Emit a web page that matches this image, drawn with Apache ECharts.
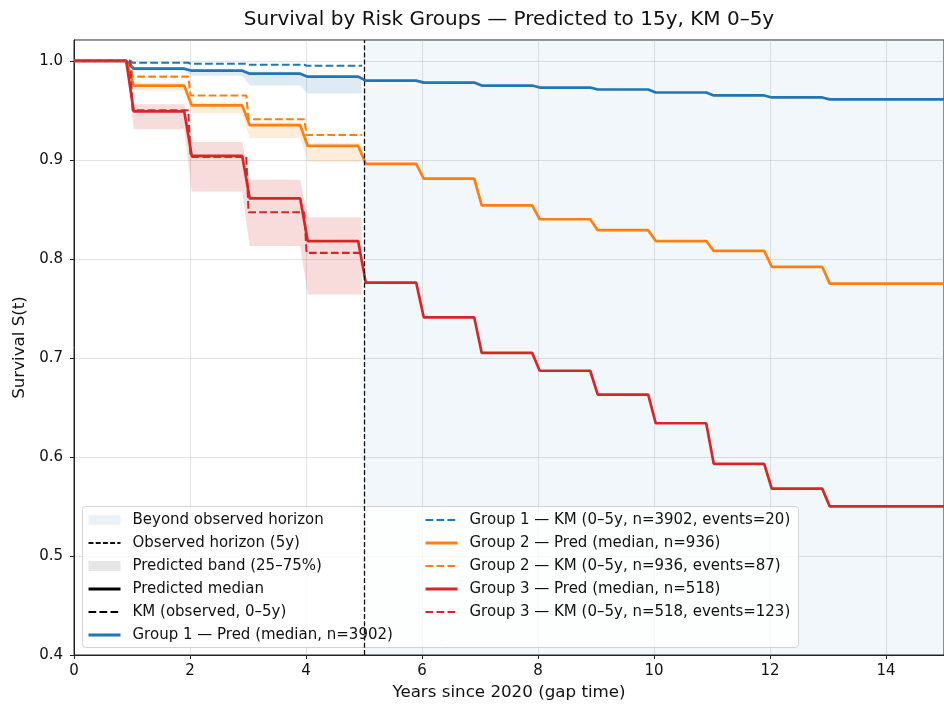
<!DOCTYPE html>
<html>
<head>
<meta charset="utf-8">
<script src="https://cdn.jsdelivr.net/npm/echarts@6/dist/echarts.min.js"></script>
<style>
  html, body { margin: 0; padding: 0; background: #fff; }
  #chart { width: 944px; height: 706px; }
</style>
</head>
<body>
<div id="chart"></div>
<script>
// ---- data ----
const s0 = 1.0;
const horizon = 5;
const xEnd = 15;

// predicted medians, value after the step at each year
const predTimes = [1, 2, 3, 4, 5, 6, 7, 8, 9, 10, 11, 12, 13];
const g1Pred = [0.992, 0.990, 0.987, 0.984, 0.980, 0.978, 0.975, 0.973, 0.971, 0.968, 0.965, 0.963, 0.961];
const g2Pred = [0.975, 0.955, 0.935, 0.914, 0.896, 0.881, 0.854, 0.840, 0.829, 0.818, 0.808, 0.792, 0.775];
const g3Pred = [0.949, 0.904, 0.861, 0.818, 0.776, 0.741, 0.705, 0.687, 0.663, 0.634, 0.593, 0.568, 0.550];

// KM (observed 0-5y)
const kmTimes = [1, 2, 3, 4];
const g1KM = [0.998, 0.997, 0.996, 0.995];
const g2KM = [0.984, 0.965, 0.941, 0.925];
const g3KM = [0.950, 0.903, 0.847, 0.806];

// predicted band 25-75% over 0-5y
const g1Lo = [0.990, 0.985, 0.975, 0.967];
const g1Hi = [0.994, 0.992, 0.989, 0.985];
const g2Lo = [0.970, 0.947, 0.922, 0.898];
const g2Hi = [0.978, 0.958, 0.938, 0.917];
const g3Lo = [0.931, 0.868, 0.813, 0.764];
const g3Hi = [0.956, 0.918, 0.880, 0.842];

const C1 = '#1f77b4', C2 = '#ff7f0e', C3 = '#d62728';
const FONT = 'DejaVu Sans';

// step curve with slightly slanted risers
function steps(times, vals, end, pre, post) {
  const pts = [[0, s0]];
  let prev = s0;
  times.forEach((t, i) => {
    pts.push([t - pre, prev]);
    pts.push([t + post, vals[i]]);
    prev = vals[i];
  });
  pts.push([end, prev]);
  return pts;
}

function band(lo, hi, color) {
  const top = steps(kmTimes, hi, 4.96, 0.1, 0.03);
  const bot = steps(kmTimes, lo, 4.96, 0.1, 0.03).reverse();
  const poly = top.concat(bot);
  return {
    type: 'custom',
    z: 1,
    silent: true,
    data: [[0, s0]],
    renderItem: (params, api) => ({
      type: 'polygon',
      shape: { points: poly.map(p => api.coord(p)) },
      style: { fill: color }
    })
  };
}

function pred(name, vals, color) {
  return {
    name: name, type: 'line', z: 3, symbol: 'none', silent: true,
    data: steps(predTimes, vals, xEnd, 0.1, 0.03),
    lineStyle: { color: color, width: 2.7 },
    itemStyle: { color: color }
  };
}

function km(name, vals, color) {
  return {
    name: name, type: 'line', z: 4, symbol: 'none', silent: true,
    data: steps(kmTimes, vals, 4.97, 0.03, 0.01),
    lineStyle: { color: color, width: 2.1, type: [7.7, 3.3] },
    itemStyle: { color: color }
  };
}

const names = {
  beyond: 'Beyond observed horizon',
  hz: 'Observed horizon (5y)',
  band: 'Predicted band (25–75%)',
  med: 'Predicted median',
  km: 'KM (observed, 0–5y)',
  p1: 'Group 1 — Pred (median, n=3902)',
  k1: 'Group 1 — KM (0–5y, n=3902, events=20)',
  p2: 'Group 2 — Pred (median, n=936)',
  k2: 'Group 2 — KM (0–5y, n=936, events=87)',
  p3: 'Group 3 — Pred (median, n=518)',
  k3: 'Group 3 — KM (0–5y, n=518, events=123)'
};

// legend entry drawn as a plain line (no marker)
const lineItem = (n, w) => ({
  name: n,
  itemStyle: { opacity: 0, borderWidth: 0 },
  lineStyle: { width: w }
});

const chart = echarts.init(document.getElementById('chart'));

const legendBase = {
  orient: 'vertical',
  top: 512,
  padding: 0,
  itemWidth: 32,
  itemHeight: 10,
  itemGap: 7,
  selectedMode: false,
  z: 6,
  textStyle: { fontFamily: FONT, fontSize: 15, lineHeight: 16, color: '#111', padding: [0, 0, 0, 7] }
};

chart.setOption({
  animation: false,
  backgroundColor: '#fff',
  title: {
    text: 'Survival by Risk Groups — Predicted to 15y, KM 0–5y',
    left: 509,
    textAlign: 'center',
    top: 10,
    padding: 0,
    textStyle: { fontFamily: FONT, fontSize: 20, fontWeight: 'normal', color: '#111' }
  },
  grid: {
    left: 74, right: -4, top: 40, bottom: 50,
    show: true, borderColor: '#222', borderWidth: 1, backgroundColor: 'transparent'
  },
  graphic: [{
    type: 'rect', left: 82, top: 506, z: 5,
    shape: { width: 716, height: 141, r: 3 },
    style: { fill: 'rgba(255,255,255,0.8)', stroke: '#d3d3d3', lineWidth: 1 }
  }],
  legend: [
    Object.assign({}, legendBase, {
      left: 87,
      data: [
        { name: names.beyond, icon: 'rect' },
        lineItem(names.hz, 2),
        { name: names.band, icon: 'rect' },
        lineItem(names.med, 3), lineItem(names.km, 2.2), lineItem(names.p1, 3)
      ]
    }),
    Object.assign({}, legendBase, {
      left: 424,
      data: [
        lineItem(names.k1, 2.2), lineItem(names.p2, 3), lineItem(names.k2, 2.2),
        lineItem(names.p3, 3), lineItem(names.k3, 2.2)
      ]
    })
  ],
  xAxis: {
    type: 'value', min: 0, max: xEnd, interval: 2,
    name: 'Years since 2020 (gap time)',
    nameLocation: 'middle', nameGap: 29,
    nameTextStyle: { fontFamily: FONT, fontSize: 16.7, color: '#111' },
    axisLine: { show: true, lineStyle: { color: '#222', width: 1 } },
    axisTick: { show: true, length: 4, lineStyle: { color: '#222' } },
    axisLabel: { fontFamily: FONT, fontSize: 15, color: '#111', margin: 9, showMaxLabel: false },
    splitLine: { show: true, lineStyle: { color: 'rgba(176,176,176,0.35)', width: 1 } }
  },
  yAxis: {
    type: 'value', min: 0.4, max: 1.021, interval: 0.1,
    name: 'Survival S(t)',
    nameLocation: 'middle', nameGap: 45, nameRotate: 90,
    nameTextStyle: { fontFamily: FONT, fontSize: 16.7, color: '#111' },
    axisLine: { show: true, lineStyle: { color: '#222', width: 1 } },
    axisTick: { show: true, length: 4, lineStyle: { color: '#222' } },
    axisLabel: {
      fontFamily: FONT, fontSize: 15, color: '#111', margin: 11, showMaxLabel: false,
      formatter: v => v.toFixed(1)
    },
    splitLine: { show: true, lineStyle: { color: 'rgba(176,176,176,0.35)', width: 1 } }
  },
  series: [
    {
      name: names.beyond, type: 'line', z: 0, symbol: 'none', data: [],
      itemStyle: { color: 'rgba(31,119,180,0.09)' },
      lineStyle: { color: 'rgba(31,119,180,0.09)' },
      markArea: {
        silent: true,
        itemStyle: { color: 'rgba(31,119,180,0.06)' },
        data: [[{ xAxis: horizon }, { xAxis: xEnd }]]
      }
    },
    {
      name: names.hz, type: 'line', z: 5, symbol: 'none', data: [],
      itemStyle: { color: '#111' },
      lineStyle: { color: '#111', width: 2, type: [5, 2.2] },
      markLine: {
        silent: true, symbol: 'none', label: { show: false },
        lineStyle: { color: '#111', width: 1.3, type: [5, 2.2] },
        data: [{ xAxis: horizon }]
      }
    },
    {
      name: names.band, type: 'line', symbol: 'none', data: [],
      itemStyle: { color: '#e6e6e6' }, lineStyle: { color: '#e6e6e6' }
    },
    {
      name: names.med, type: 'line', symbol: 'none', data: [],
      itemStyle: { color: '#000' }, lineStyle: { color: '#000', width: 2.7 }
    },
    {
      name: names.km, type: 'line', symbol: 'none', data: [],
      itemStyle: { color: '#000' }, lineStyle: { color: '#000', width: 2.1, type: [7.7, 3.3] }
    },
    band(g1Lo, g1Hi, 'rgba(31,119,180,0.15)'),
    band(g2Lo, g2Hi, 'rgba(255,127,14,0.15)'),
    band(g3Lo, g3Hi, 'rgba(214,39,40,0.17)'),
    pred(names.p1, g1Pred, C1),
    km(names.k1, g1KM, C1),
    pred(names.p2, g2Pred, C2),
    km(names.k2, g2KM, C2),
    pred(names.p3, g3Pred, C3),
    km(names.k3, g3KM, C3)
  ]
});
</script>
</body>
</html>
